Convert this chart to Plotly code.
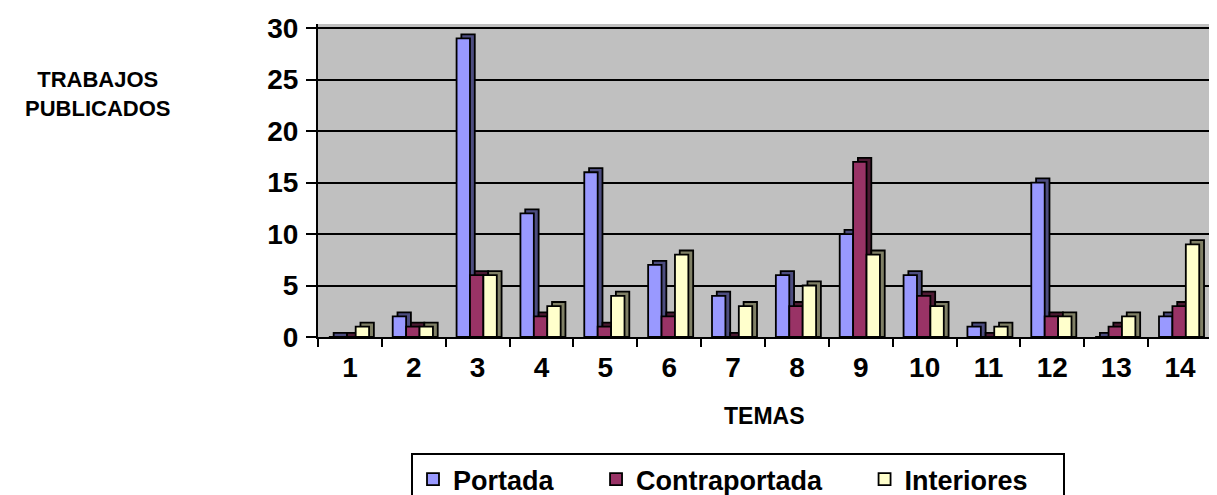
import plotly.graph_objects as go

temas = [str(i) for i in range(1, 15)]
portada = [0, 2, 29, 12, 16, 7, 4, 6, 10, 6, 1, 15, 0, 2]
contraportada = [0, 1, 6, 2, 1, 2, 0, 3, 17, 4, 0, 2, 1, 3]
interiores = [1, 1, 6, 3, 4, 8, 3, 5, 8, 3, 1, 2, 2, 9]
y_ticks = [0, 5, 10, 15, 20, 25, 30]

NB = "\u00a0"
series = [
    ("Portada", portada, "#9999FF", "#4D4D80", NB * 5),
    ("Contraportada", contraportada, "#993366", "#4D1A33", NB * 5),
    ("Interiores", interiores, "#FFFFCC", "#808066", NB * 4),
]

BAR_W = 0.21
OFFSETS = [-0.33, -0.12, 0.09]
DX = 0.075   # depth in category units
DY = 0.4     # depth in value units

# page has an 8px body margin: figure is drawn 8px in from top-left
W, H = 1209, 487
PL, PT, PR, PB = 310, 12, 1204, 328.7   # plot area in figure pixels
PW, PH = PR - PL, PB - PT


def px(x):
    return (x - 8 - PL) / PW


def py(y):
    return (PB - (y - 8)) / PH


fig = go.Figure()
for (name, vals, col, dark, pad), off in zip(series, OFFSETS):
    fig.add_trace(go.Bar(
        x=temas, y=[v + DY for v in vals], width=BAR_W, offset=off + DX,
        marker=dict(color=dark, line=dict(color="black", width=1.8)),
        showlegend=False, hoverinfo="skip"))
    fig.add_trace(go.Bar(
        x=temas, y=vals, width=BAR_W, offset=off, name=name + pad,
        marker=dict(color=col, line=dict(color="black", width=1.8))))

fig.update_layout(
    barmode="overlay",
    width=W, height=H,
    margin=dict(l=PL, r=W - PR, t=PT, b=H - PB),
    paper_bgcolor="white",
    plot_bgcolor="#C0C0C0",
    font=dict(family="Liberation Sans, Arial, sans-serif", color="black"),
    xaxis=dict(
        type="category", tickson="boundaries", ticks="outside", ticklen=8,
        tickwidth=2, tickcolor="black", showline=True, linecolor="black",
        linewidth=2, showgrid=False, range=[-0.5, 13.5],
        tickfont=dict(size=28, weight="bold"), ticklabelstandoff=4,
    ),
    yaxis=dict(
        range=[0, 30.4], tickvals=y_ticks, ticks="outside", ticklen=10,
        tickwidth=2, tickcolor="black", showline=True, linecolor="black",
        linewidth=2, showgrid=True, gridcolor="black", gridwidth=2,
        zeroline=False, tickfont=dict(size=28, weight="bold"),
        ticklabelstandoff=2,
    ),
    legend=dict(
        orientation="h", xref="paper", x=px(411), xanchor="left",
        yref="container", y=1 - (453 - 8) / H, yanchor="top",
        bordercolor="black", borderwidth=2, bgcolor="white",
        font=dict(size=27, weight="bold"),
    ),
    annotations=[
        dict(text="TRABAJOS<br>PUBLICADOS", xref="paper", yref="paper",
             x=px(97), xanchor="center",
             y=py(91), yanchor="middle", showarrow=False,
             font=dict(size=22, weight="bold")),
        dict(text="TEMAS", xref="paper", yref="paper",
             x=px(764), xanchor="center",
             y=py(417), yanchor="middle", showarrow=False,
             font=dict(size=23, weight="bold")),
    ],
)

fig.write_html("out.html")
